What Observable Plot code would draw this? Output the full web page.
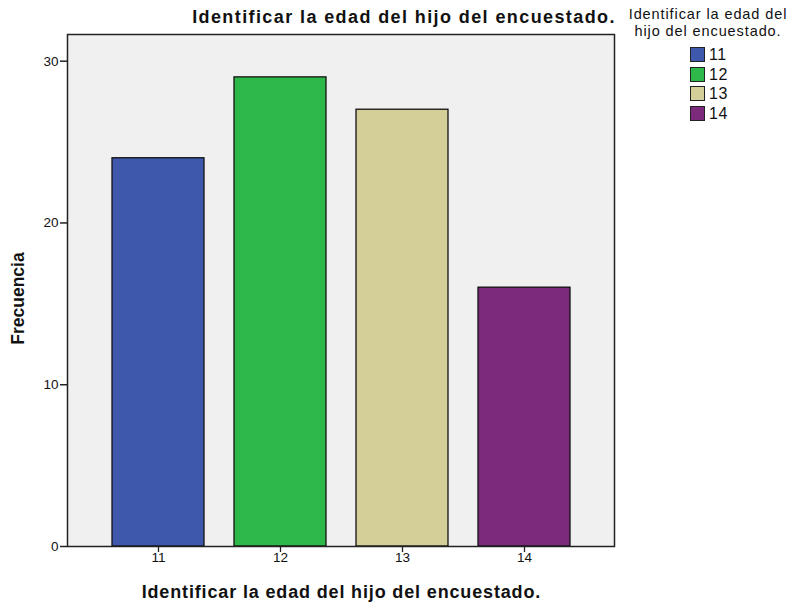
<!DOCTYPE html>
<html>
<head>
<meta charset="utf-8">
<script src="https://cdn.jsdelivr.net/npm/d3@7"></script>
<script src="https://cdn.jsdelivr.net/npm/@observablehq/plot@0.6"></script>
<style>
  html, body { margin: 0; padding: 0; background: #fff; }
  #wrap { position: relative; width: 792px; height: 604px; font-family: "Liberation Sans", Arial, sans-serif; }
  #title { position: absolute; left: 0; width: 808px; top: 7px; text-align: center; font-weight: bold; font-size: 18px; letter-spacing: 1.4px; color: #111; }
  #legend { position: absolute; left: 620px; width: 176px; top: 6px; font-size: 14.5px; letter-spacing: 0.9px; color: #111; }
  #legend .lt { text-align: center; line-height: 17px; }
  #legend .item { position: absolute; left: 70px; height: 16px; line-height: 16px; font-size: 16px; letter-spacing: 0.5px; }
  #legend .sw { display: inline-block; width: 15px; height: 15px; border: 1px solid #222; box-sizing: border-box; vertical-align: top; margin-right: 4px; margin-top: 0px; }
</style>
</head>
<body>
<div id="wrap">
  <div id="chart"></div>
  <div id="title"></div>
  <div id="legend"></div>
</div>
<script>
const categories = ["11", "12", "13", "14"];
const frequencies = [24, 29, 27, 16];
const colors = ["#3e58ac", "#2fb84a", "#d4cf98", "#7c2a7b"];
const yTicks = [0, 10, 20, 30];
const titleText = "Identificar la edad del hijo del encuestado.";
const xLabel = "Identificar la edad del hijo del encuestado.";
const yLabel = "Frecuencia";
const legendTitle = ["Identificar la edad del", "hijo del encuestado."];

const data = categories.map((c, i) => ({ cat: c, value: frequencies[i] }));

const chart = Plot.plot({
  width: 792,
  height: 604,
  marginLeft: 67,
  marginRight: 178,
  marginTop: 34,
  marginBottom: 58,
  style: { fontFamily: "Liberation Sans, Arial, sans-serif", fontSize: "13px", color: "#111", background: "white" },
  x: { domain: categories, paddingInner: 0.25, paddingOuter: 0.35, label: null },
  y: { domain: [0, 31.65], label: null },
  color: { domain: categories, range: colors },
  marks: [
    Plot.frame({ fill: "#f0f0f0", stroke: "none" }),
    Plot.barY(data, { x: "cat", y: "value", fill: "cat", stroke: "#111", strokeWidth: 1.3 }),
    Plot.frame({ stroke: "#222", strokeWidth: 1.5 }),
    Plot.axisX({ tickSize: 6, tickFormat: () => "", stroke: "#222", strokeWidth: 1.3 }),
    Plot.axisY({ ticks: yTicks, tickSize: 7, tickFormat: () => "", stroke: "#222", strokeWidth: 1.5 }),
    Plot.text(categories, { x: d => d, frameAnchor: "bottom", lineAnchor: "middle", dy: 11.5, text: d => d, fontSize: 13.5, fill: "#111" }),
    Plot.text(yTicks, { y: d => d, frameAnchor: "left", textAnchor: "end", lineAnchor: "middle", dx: -9, text: d => String(d), fontSize: 13.5, fill: "#111" }),
    Plot.text([xLabel], { frameAnchor: "bottom", dy: 51, text: d => d, fontSize: 18, fontWeight: "bold", fill: "#111" }),
    Plot.text([yLabel], { frameAnchor: "left", dx: -49, dy: 8, rotate: -90, textAnchor: "middle", text: d => d, fontSize: 17.5, fontWeight: "bold", fill: "#111" })
  ]
});
document.getElementById("chart").appendChild(chart);
const sel = d3.select(chart);
sel.selectAll("text").filter(function () { return this.textContent === xLabel; })
  .style("letter-spacing", "0.85px").attr("dx", 0.4);
document.getElementById("title").textContent = titleText;

const leg = document.getElementById("legend");
legendTitle.forEach(t => { const d = document.createElement("div"); d.className = "lt"; d.textContent = t; leg.appendChild(d); });
categories.forEach((c, i) => {
  const it = document.createElement("div");
  it.className = "item";
  it.style.top = (41 + i * 19.5) + "px";
  const sw = document.createElement("span");
  sw.className = "sw";
  sw.style.background = colors[i];
  it.appendChild(sw);
  it.appendChild(document.createTextNode(c));
  leg.appendChild(it);
});
</script>
</body>
</html>
